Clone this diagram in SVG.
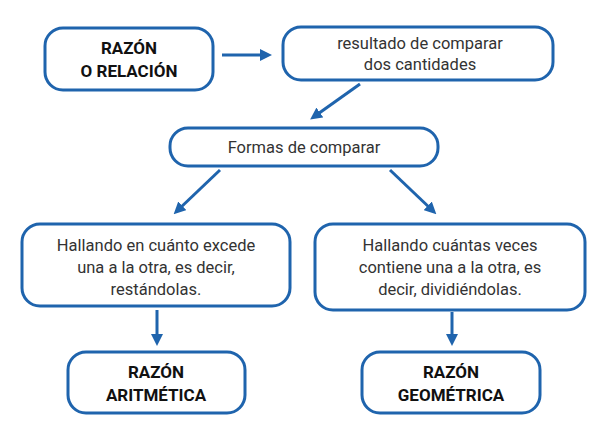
<svg xmlns="http://www.w3.org/2000/svg" width="600" height="427" viewBox="0 0 600 427">
<defs>
<marker id="ah" viewBox="0 0 10 10" refX="5" refY="5" markerWidth="4" markerHeight="4" orient="auto"><path d="M0,0 L10,5 L0,10 z" fill="#1f64ad"/></marker>
<style>
.b{fill:#fff;stroke:#1f64ad;stroke-width:3}
.t{font-family:Roboto,"Liberation Sans",sans-serif;font-size:16.5px;fill:#333;text-anchor:middle}
.h{font-family:Roboto,"Liberation Sans",sans-serif;font-size:17px;font-weight:bold;fill:#111;text-anchor:middle}
.c{stroke:#1f64ad;stroke-width:3;fill:none;marker-end:url(#ah)}
</style>
</defs>
<rect width="600" height="427" fill="#fff"/>
<g id="n1"><rect class="b" x="45" y="28" width="168" height="62" rx="18"/><text class="h" x="129" y="54">RAZÓN</text><text class="h" x="129" y="77">O RELACIÓN</text></g>
<g id="n2"><rect class="b" x="283" y="27" width="270" height="53" rx="18"/><text class="t" x="420" y="49">resultado de comparar</text><text class="t" x="420" y="70">dos cantidades</text></g>
<g id="n3"><rect class="b" x="170" y="128" width="268" height="38" rx="18"/><text class="t" x="304" y="153">Formas de comparar</text></g>
<g id="n4"><rect class="b" x="22" y="224" width="268" height="82" rx="18"/><text class="t" x="156" y="251">Hallando en cuánto excede</text><text class="t" x="156" y="273">una a la otra, es decir,</text><text class="t" x="156" y="295">restándolas.</text></g>
<g id="n5"><rect class="b" x="315" y="224" width="270" height="86" rx="18"/><text class="t" x="450" y="251">Hallando cuántas veces</text><text class="t" x="450" y="273">contiene una a la otra, es</text><text class="t" x="450" y="295">decir, dividiéndolas.</text></g>
<g id="n6"><rect class="b" x="68" y="352" width="177" height="61" rx="18"/><text class="h" x="156" y="378">RAZÓN</text><text class="h" x="156" y="401">ARITMÉTICA</text></g>
<g id="n7"><rect class="b" x="362" y="352" width="178" height="61" rx="18"/><text class="h" x="451" y="378">RAZÓN</text><text class="h" x="451" y="401">GEOMÉTRICA</text></g>
<g id="connectors">
<line class="c" x1="222" y1="55" x2="266" y2="55"/>
<line class="c" x1="360" y1="84" x2="315" y2="116"/>
<line class="c" x1="220" y1="170" x2="178" y2="210"/>
<line class="c" x1="390" y1="170" x2="432" y2="210"/>
<line class="c" x1="157" y1="310" x2="157" y2="340"/>
<line class="c" x1="452" y1="312" x2="452" y2="340"/>
</g>
</svg>
